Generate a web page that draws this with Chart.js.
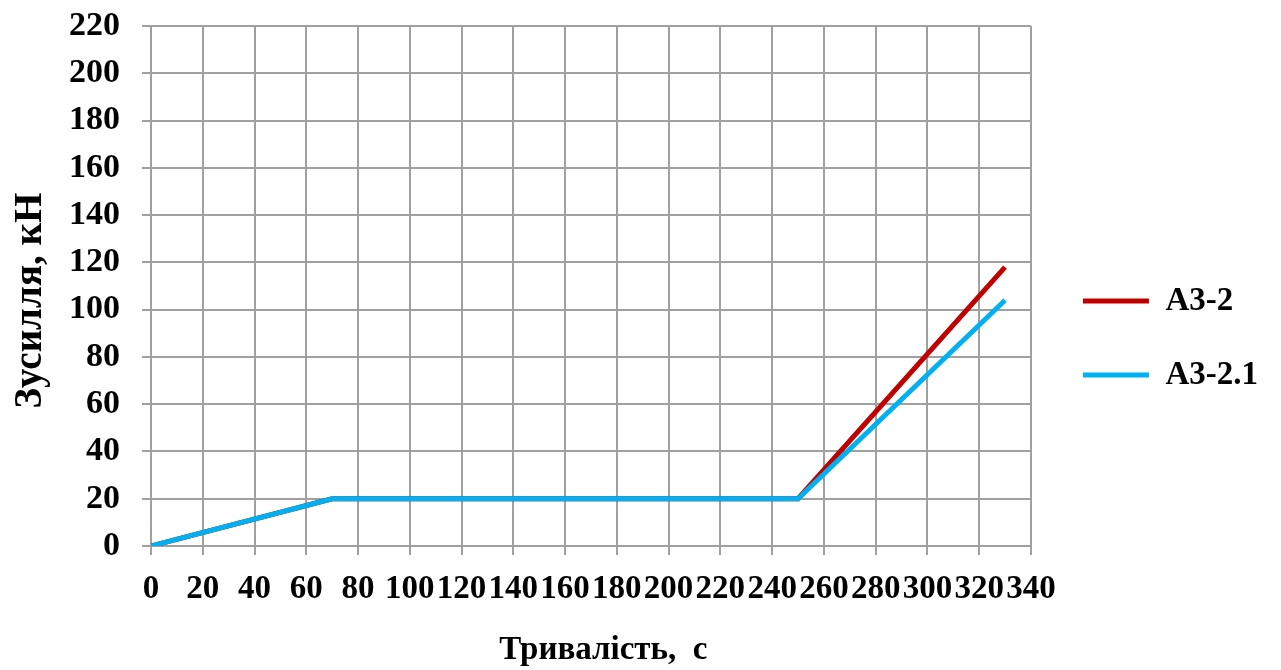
<!DOCTYPE html>
<html>
<head>
<meta charset="utf-8">
<script src="https://cdn.jsdelivr.net/npm/chart.js@4/dist/chart.umd.min.js"></script>
<style>
html,body{margin:0;padding:0;background:#fff;}
#wrap{width:1281px;height:670px;position:relative;}
</style>
</head>
<body>
<div id="wrap"><canvas id="c" width="1281" height="670"></canvas></div>
<script>
const timeA = [0, 70, 250, 330];
const forceA32 = [0, 20, 20, 118];
const forceA321 = [0, 20, 20, 104];
const seriesNames = ['А3-2', 'А3-2.1'];
const xTitle = '\u00A0\u00A0\u00A0Тривалість,  с';
const yTitle = 'Зусилля, кН\u00A0\u00A0\u00A0';

const toPts = (xs, ys) => xs.map((x, i) => ({x: x, y: ys[i]}));
const FONT = '"Liberation Serif", "Times New Roman", serif';

const shiftLegend = {
  id: 'shiftLegend',
  afterLayout(chart) {
    if (chart.legend) {
      chart.legend.left += 11; chart.legend.right += 11;
      chart.legend.top -= 10; chart.legend.bottom -= 10;
    }
  }
};

new Chart(document.getElementById('c'), {
  type: 'line',
  data: {
    datasets: [
      {label: seriesNames[0], data: toPts(timeA, forceA32), borderColor: '#c00000', backgroundColor: '#c00000', borderWidth: 5, pointRadius: 0, tension: 0, order: 2},
      {label: seriesNames[1], data: toPts(timeA, forceA321), borderColor: '#00b0f0', backgroundColor: '#00b0f0', borderWidth: 5, pointRadius: 0, tension: 0, order: 1}
    ]
  },
  options: {
    responsive: false,
    animation: false,
    layout: {padding: {left: 0, right: 24, top: 26, bottom: 0}},
    plugins: {
      tooltip: {enabled: false},
      legend: {
        position: 'right',
        align: 'center',
        labels: {
          usePointStyle: true,
          pointStyle: 'line',
          pointStyleWidth: 66,
          boxWidth: 66,
          padding: 41,
          color: '#000',
          font: {family: FONT, size: 33, weight: 'bold'},
          sort: (a, b) => a.datasetIndex - b.datasetIndex
        }
      }
    },
    scales: {
      x: {
        type: 'linear',
        min: 0, max: 340,
        afterFit: (s) => { s.height = 124; s.paddingLeft = 0; s.paddingRight = 0; },
        ticks: {stepSize: 20, autoSkip: false, maxRotation: 0, padding: 15, color: '#000', font: {family: FONT, size: 33, weight: 'bold'}},
        grid: {color: '#a0a0a0', lineWidth: 2, tickLength: 9, drawTicks: true},
        border: {color: '#a0a0a0', width: 2},
        title: {display: true, text: xTitle, color: '#000', padding: {top: 16, bottom: 0}, font: {family: FONT, size: 33, weight: 'bold'}}
      },
      y: {
        type: 'linear',
        min: 0, max: 220,
        afterFit: (s) => { s.width = 151; s.paddingTop = 0; s.paddingBottom = 0; },
        ticks: {stepSize: 20, autoSkip: false, padding: 22, color: '#000', font: {family: FONT, size: 34, weight: 'bold'}},
        grid: {color: '#a0a0a0', lineWidth: 2, tickLength: 9, drawTicks: true},
        border: {color: '#a0a0a0', width: 2},
        title: {display: true, text: yTitle, color: '#000', padding: {top: 8, bottom: 0}, font: {family: FONT, size: 39, weight: 'bold'}}
      }
    }
  },
  plugins: [shiftLegend]
});
</script>
</body>
</html>
